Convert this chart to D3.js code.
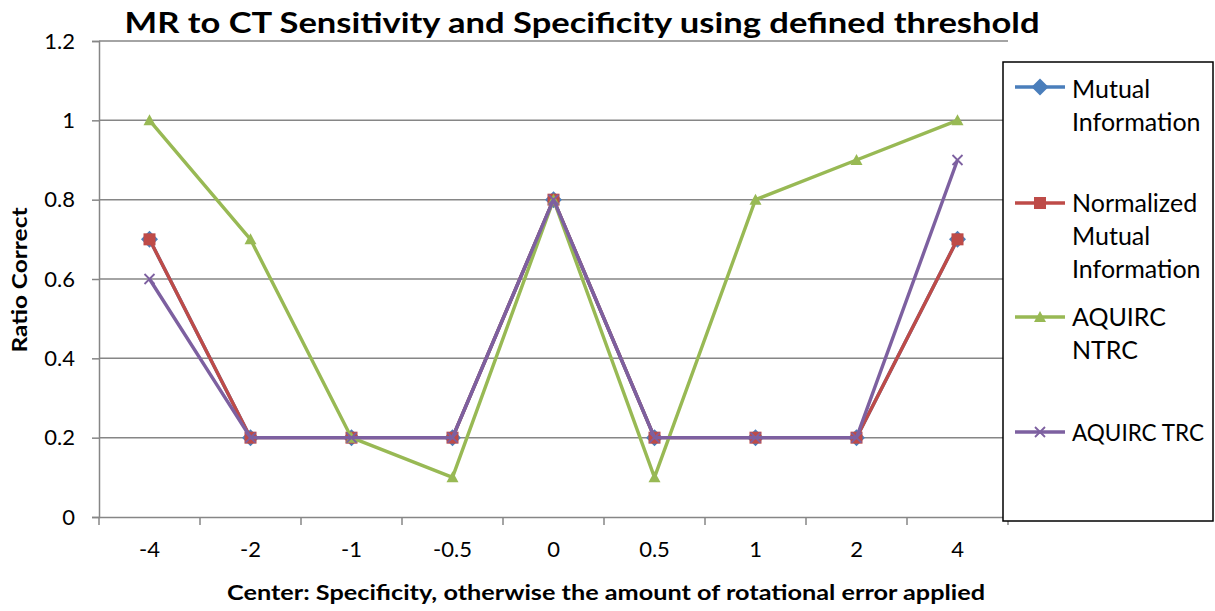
<!DOCTYPE html>
<html><head><meta charset="utf-8">
<script src="https://cdn.jsdelivr.net/npm/d3@7"></script>
<style>body{margin:0;background:#fff}svg{display:block}</style>
</head><body>
<svg id="c" width="1215" height="611"></svg>
<script>
const categories = ["-4","-2","-1","-0.5","0","0.5","1","2","4"];
const yTicks = [0,0.2,0.4,0.6,0.8,1,1.2];
const seriesNames = ["Mutual Information","Normalized Mutual Information","AQUIRC NTRC","AQUIRC TRC"];
const mutualInfo = [0.7,0.2,0.2,0.2,0.8,0.2,0.2,0.2,0.7];
const normMutualInfo = [0.7,0.2,0.2,0.2,0.8,0.2,0.2,0.2,0.7];
const aquircNTRC = [1,0.7,0.2,0.1,0.8,0.1,0.8,0.9,1];
const aquircTRC = [0.6,0.2,0.2,0.2,0.8,0.2,0.2,0.2,0.9];
const legendLines = [["Mutual","Information"],["Normalized","Mutual","Information"],["AQUIRC","NTRC"],["AQUIRC TRC"]];

const font = "Lato, 'Open Sans', sans-serif";
const svg = d3.select("#c");
const L=99, R=1008, T=41, B=517;
const x = d3.scaleBand().domain(categories).range([L,R]);
const y = d3.scaleLinear().domain([0,1.2]).range([B,T]);
const grid="#868686";

// gridlines
svg.append("g").selectAll("line").data(yTicks.filter(d=>d>0)).join("line")
  .attr("x1",L).attr("x2",R).attr("y1",d=>y(d)).attr("y2",d=>y(d))
  .attr("stroke",grid).attr("stroke-width",1.5);

// y axis
const ya = svg.append("g").attr("transform",`translate(${L},0)`)
  .call(d3.axisLeft(y).tickValues(yTicks).tickSize(7).tickPadding(17).tickFormat(d=>d3.format("")(d)));
ya.select(".domain").attr("stroke",grid).attr("stroke-width",1.5);
ya.selectAll(".tick line").attr("stroke",grid).attr("stroke-width",1.5);
ya.selectAll("text").attr("font-family",font).attr("font-size",22).attr("fill","#000");

// x axis
const xa = svg.append("g").attr("transform",`translate(0,${B})`)
  .call(d3.axisBottom(x).tickSize(0).tickPadding(24));
xa.select(".domain").attr("stroke",grid).attr("stroke-width",1.5);
xa.selectAll(".tick line").remove();
xa.selectAll("text").attr("font-family",font).attr("font-size",22).attr("fill","#000");
svg.append("g").selectAll("line").data(categories.concat(["_end"])).join("line")
  .attr("x1",(d,i)=>L+i*x.bandwidth()).attr("x2",(d,i)=>L+i*x.bandwidth())
  .attr("y1",B).attr("y2",B+8).attr("stroke",grid).attr("stroke-width",1.5);

// series
const colors=["#4A7EBB","#BE4B48","#98B954","#7D60A0"];
const data=[mutualInfo,normMutualInfo,aquircNTRC,aquircTRC];
const line=d3.line().x((d,i)=>x(categories[i])+x.bandwidth()/2).y(d=>y(d));
function marker(g,k,cx,cy){
  if(k===0) g.append("path").attr("d",`M${cx},${cy-8.5}L${cx+8.5},${cy}L${cx},${cy+8.5}L${cx-8.5},${cy}Z`).attr("fill",colors[0]);
  else if(k===1) g.append("rect").attr("x",cx-6).attr("y",cy-6).attr("width",12).attr("height",12).attr("fill",colors[1]);
  else if(k===2) g.append("path").attr("d",`M${cx},${cy-6}L${cx+6},${cy+5}L${cx-6},${cy+5}Z`).attr("fill",colors[2]);
  else g.append("path").attr("d",`M${cx-5},${cy-5}L${cx+5},${cy+5}M${cx+5},${cy-5}L${cx-5},${cy+5}`).attr("stroke",colors[3]).attr("stroke-width",1.8);
}
data.forEach((s,k)=>{
  const g=svg.append("g");
  g.append("path").datum(s).attr("d",line).attr("fill","none").attr("stroke",colors[k]).attr("stroke-width",3.4).attr("stroke-linejoin","round");
  s.forEach((v,i)=>marker(g,k,x(categories[i])+x.bandwidth()/2,y(v)));
});

// title
svg.append("text").attr("x",582).attr("y",33).attr("text-anchor","middle")
  .attr("font-family",font).attr("font-weight","bold").attr("font-size",29)
  .attr("textLength",915).attr("lengthAdjust","spacingAndGlyphs")
  .text("MR to CT Sensitivity and Specificity using defined threshold");
// y label
svg.append("text").attr("transform","translate(27,280) rotate(-90)").attr("text-anchor","middle")
  .attr("font-family",font).attr("font-weight","bold").attr("font-size",21)
  .attr("textLength",145).attr("lengthAdjust","spacingAndGlyphs").text("Ratio Correct");
// x label
svg.append("text").attr("x",606).attr("y",600).attr("text-anchor","middle")
  .attr("font-family",font).attr("font-weight","bold").attr("font-size",21)
  .attr("textLength",758).attr("lengthAdjust","spacingAndGlyphs")
  .text("Center: Specificity, otherwise the amount of rotational error applied");

// legend
const lg=svg.append("g");
lg.append("rect").attr("x",1003).attr("y",62).attr("width",210).attr("height",459).attr("fill","#fff").attr("stroke","#000").attr("stroke-width",1.5);
const ly=[87,203,317,432];
const textStart=[[98,131],[212,245,278],[326,359],[441]];
legendLines.forEach((ls,k)=>{
  lg.append("line").attr("x1",1015).attr("x2",1065).attr("y1",ly[k]).attr("y2",ly[k]).attr("stroke",colors[k]).attr("stroke-width",3.4);
  marker(lg,k,1040,ly[k]);
  ls.forEach((t,j)=>{
    lg.append("text").attr("x",1072).attr("y",textStart[k][j]).attr("font-family",font)
      .attr("font-size",t==="AQUIRC TRC"?22.5:25).text(t);
  });
});
</script>
</body></html>
